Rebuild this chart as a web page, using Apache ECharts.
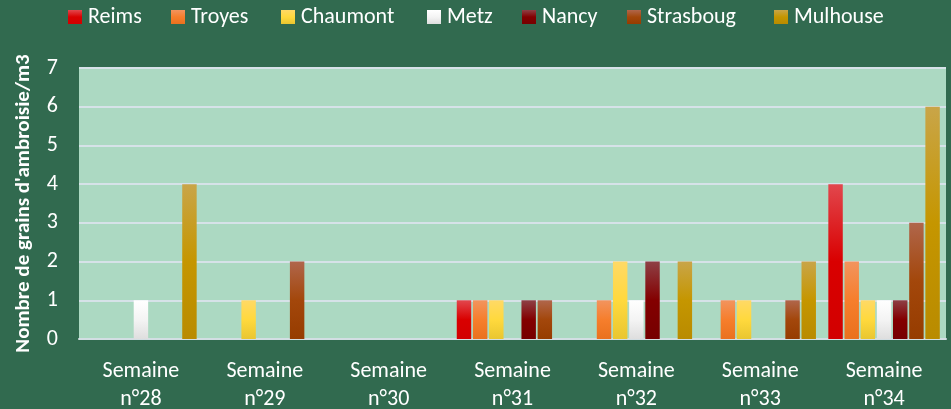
<!DOCTYPE html>
<html>
<head>
  <meta charset="utf-8">
  <title></title>
  <script src="https://cdn.jsdelivr.net/npm/echarts@6/dist/echarts.min.js"></script>
  <style>
    html, body { margin: 0; padding: 0; background: #316A4F; }
    #chart { width: 951px; height: 409px; }
  </style>
</head>
<body>
<div id="chart"></div>
<script>
  var weeks = ['Semaine\nn°28', 'Semaine\nn°29', 'Semaine\nn°30', 'Semaine\nn°31', 'Semaine\nn°32', 'Semaine\nn°33', 'Semaine\nn°34'];
  var cities = ['Reims', 'Troyes', 'Chaumont', 'Metz', 'Nancy', 'Strasboug', 'Mulhouse'];
  var reims = [0, 0, 0, 1, 0, 0, 4];
  var troyes = [0, 0, 0, 1, 1, 1, 2];
  var chaumont = [0, 1, 0, 1, 2, 1, 1];
  var metz = [1, 0, 0, 0, 1, 0, 1];
  var nancy = [0, 0, 0, 1, 2, 0, 1];
  var strasboug = [0, 2, 0, 1, 0, 1, 3];
  var mulhouse = [4, 0, 0, 0, 2, 2, 6];
  var yTicks = [0, 1, 2, 3, 4, 5, 6, 7];

  // haut / milieu / bas de chaque dégradé
  var grads = [
    ['#E2474D', '#D90000', '#D20000'],
    ['#F2945E', '#F67E2C', '#EA711E'],
    ['#FFD966', '#FFD93D', '#E9C630'],
    ['#FFFFFF', '#F4F4F4', '#DEDEDE'],
    ['#8E4045', '#830000', '#760000'],
    ['#B0664B', '#A3470B', '#963C00'],
    ['#C9A548', '#C59600', '#B98B00']
  ];
  var values = [reims, troyes, chaumont, metz, nancy, strasboug, mulhouse];
  // position x de chaque entrée de légende
  var legendX = [68, 171, 281, 427, 522, 627, 774];

  function grad(c) {
    return new echarts.graphic.LinearGradient(0, 0, 0, 1, [
      { offset: 0, color: c[0] },
      { offset: 0.5, color: c[1] },
      { offset: 1, color: c[2] }
    ]);
  }

  var font = 'Carlito, Lato, "Open Sans", sans-serif';
  var series = [];
  var legends = [];
  for (var i = 0; i < cities.length; i++) {
    series.push({
      name: cities[i],
      type: 'bar',
      data: values[i].map(function (v) { return v === 0 ? null : v; }),
      barGap: '12%',
      barCategoryGap: '10%',
      itemStyle: { color: grad(grads[i]) }
    });
    legends.push({
      top: 6,
      left: legendX[i],
      padding: 0,
      itemWidth: 14,
      itemHeight: 14,
      itemGap: 6,
      icon: 'rect',
      textStyle: { color: '#FFFFFF', fontSize: 22, fontFamily: font, padding: [0, 0, 0, 1] },
      data: [cities[i]]
    });
  }

  var chart = echarts.init(document.getElementById('chart'));
  chart.setOption({
    backgroundColor: '#316A4F',
    animation: false,
    textStyle: { fontFamily: font },
    legend: legends,
    grid: {
      left: 79, right: 5, top: 68, bottom: 70,
      outerBoundsMode: 'none',
      containLabel: false,
      show: true, backgroundColor: '#ACD9C2', borderWidth: 0
    },
    xAxis: {
      type: 'category',
      data: weeks,
      axisLine: { show: true, lineStyle: { color: '#D3DEE3', width: 2 } },
      axisTick: { show: false },
      axisLabel: { color: '#FFFFFF', fontSize: 22, lineHeight: 28, margin: 18, fontFamily: font }
    },
    yAxis: {
      type: 'value',
      min: yTicks[0],
      max: yTicks[yTicks.length - 1],
      interval: 1,
      name: "Nombre de grains d'ambroisie/m3",
      nameLocation: 'middle',
      nameGap: 45,
      nameTextStyle: { color: '#FFFFFF', fontSize: 21, fontWeight: 'bold', fontFamily: font },
      axisLine: { show: false },
      axisTick: { show: false },
      axisLabel: { color: '#FFFFFF', fontSize: 22, margin: 21, fontFamily: font },
      splitLine: { lineStyle: { color: '#D6E2E8', width: 2 } }
    },
    series: series
  });
</script>
</body>
</html>
